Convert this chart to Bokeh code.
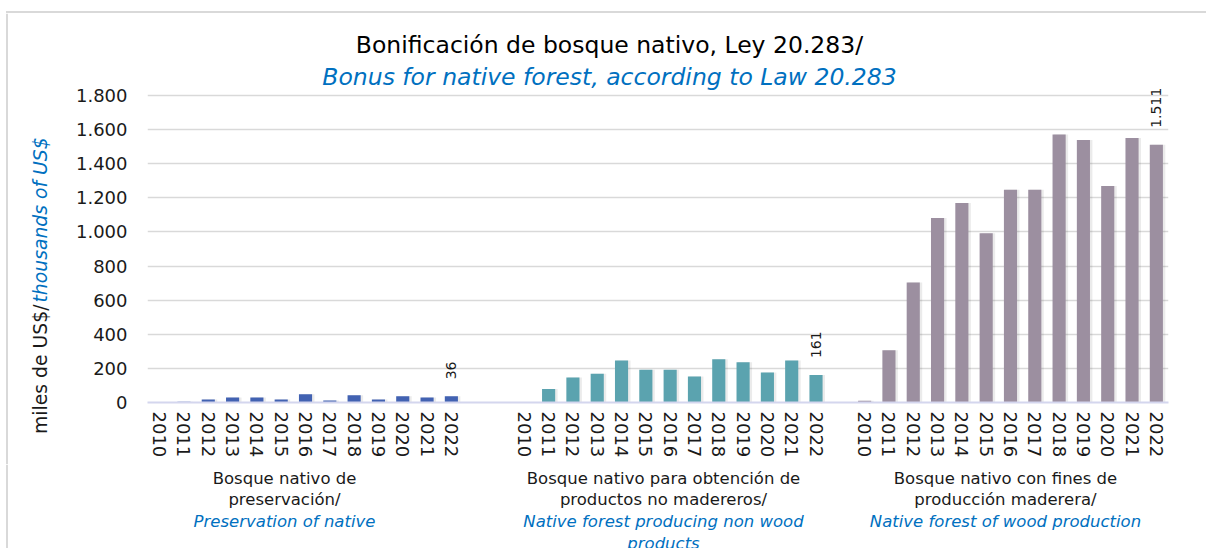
import math
from bokeh.plotting import figure
from bokeh.layouts import column, row
from bokeh.models import Range1d, FixedTicker, ColumnDataSource
from bokeh.embed import file_html
from bokeh.resources import INLINE
from bokeh.core.properties import value

# ---------------- data ----------------
YEARS = ["2010", "2011", "2012", "2013", "2014", "2015", "2016",
         "2017", "2018", "2019", "2020", "2021", "2022"]
PRESERVATION = [0, 4, 18, 30, 30, 17, 48, 11, 42, 17, 36, 30, 36]
NON_WOOD = [0, 79, 147, 168, 246, 192, 192, 152, 253, 236, 176, 246, 161]
WOOD = [10, 306, 704, 1082, 1169, 992, 1247, 1247, 1571, 1539, 1269, 1551, 1511]
SERIES = [PRESERVATION, NON_WOOD, WOOD]

# category slots: group 1, two blank categories, group 2, one blank, group 3
GROUP_START = [0, 15, 29]
N_SLOTS = 42

Y_TICKS = [0, 200, 400, 600, 800, 1000, 1200, 1400, 1600, 1800]
Y_TICK_LABELS = ["0", "200", "400", "600", "800", "1.000", "1.200", "1.400", "1.600", "1.800"]

TITLE = "Bonificación de bosque nativo, Ley 20.283/"
SUBTITLE = "Bonus for native forest, according to Law 20.283"
Y_LABEL_ES = "miles de US$/"
Y_LABEL_EN = "thousands of US$"
GROUP_ES = [["Bosque nativo de", "preservación/"],
            ["Bosque nativo para obtención de", "productos no madereros/"],
            ["Bosque nativo con fines de", "producción maderera/"]]
GROUP_EN = [["Preservation of native"],
            ["Native forest producing non wood", "products"],
            ["Native forest of wood production"]]
COLORS = ["#4262B2", "#5BA3AF", "#9C8FA0"]
BLUE_TEXT = "#0070C0"
TEXT_COL = "#1a1a1a"
BORDER_COL = "#D9D9D9"
FONT = "DejaVu Sans"

# ---------------- layout (page pixels; Bokeh's page has no body margin) ----------------
PX0, PY0 = 0, 0
TOTAL_W, TOTAL_H = 1206, 548
TOP_H = 13                 # strip holding the chart-area top border line
YLAB_W = 68                # strip holding the y-axis title
ROW_H = 451
GROUP_H = TOTAL_H - TOP_H - ROW_H
BORDER_X, BORDER_Y = 6.5, 11.5

FRAME_L, FRAME_R = 147, 1168
FRAME_T = PY0 + TOP_H
FRAME_B = 402
PPU = 307 / 1800.0
SLOT = (FRAME_R - FRAME_L) / N_SLOTS
Y_TOP = (FRAME_B - FRAME_T) / PPU


def dx(xpage):
    return (xpage - FRAME_L) / SLOT - 0.5


def dy(ypage):
    return (FRAME_B - ypage) / PPU


def no_align(f):
    if "frame_align" in f.properties():
        f.frame_align = False


def blank_fig(w, h, x0, y0):
    f = figure(width=w, height=h, output_backend="svg", toolbar_location=None,
               x_range=Range1d(x0, x0 + w), y_range=Range1d(y0 + h, y0),
               x_axis_type=None, y_axis_type=None,
               min_border_left=0, min_border_right=0, min_border_top=0, min_border_bottom=0)
    f.outline_line_color = None
    f.xgrid.visible = False
    f.ygrid.visible = False
    f.background_fill_color = "white"
    f.border_fill_color = "white"
    no_align(f)
    return f


# ---------- top strip (border line) ----------
top = blank_fig(TOTAL_W, TOP_H, PX0, PY0)
top.segment(x0=[BORDER_X - 1], y0=[BORDER_Y], x1=[PX0 + TOTAL_W], y1=[BORDER_Y],
            line_color=BORDER_COL, line_width=2)
top.segment(x0=[BORDER_X], y0=[BORDER_Y], x1=[BORDER_X], y1=[TOP_H],
            line_color=BORDER_COL, line_width=2)

# ---------- y-axis title strip ----------
ylab = blank_fig(YLAB_W, ROW_H, PX0, FRAME_T)
ylab.segment(x0=[BORDER_X], y0=[FRAME_T], x1=[BORDER_X], y1=[FRAME_T + ROW_H],
             line_color=BORDER_COL, line_width=2)
ylab.text(x=[40], y=[304], text=[Y_LABEL_ES], angle=math.pi / 2,
          text_align="right", text_baseline="middle",
          text_font=value(FONT), text_font_size="18.8px", text_color=TEXT_COL)
ylab.text(x=[40], y=[302], text=[Y_LABEL_EN], angle=math.pi / 2,
          text_align="left", text_baseline="middle",
          text_font=value(FONT), text_font_size="18.8px", text_font_style="italic",
          text_color=BLUE_TEXT)

# ---------- main chart ----------
CW = TOTAL_W - YLAB_W
p = figure(width=CW, height=ROW_H, output_backend="svg", toolbar_location=None,
           x_range=Range1d(-0.5, N_SLOTS - 0.5), y_range=Range1d(0, Y_TOP),
           min_border_left=FRAME_L - (PX0 + YLAB_W),
           min_border_right=(PX0 + TOTAL_W) - FRAME_R,
           min_border_top=0,
           min_border_bottom=(FRAME_T + ROW_H) - FRAME_B)
no_align(p)
p.outline_line_color = None
p.background_fill_color = "white"
p.border_fill_color = "white"
p.xgrid.grid_line_color = None
p.ygrid.grid_line_color = "#D9D9D9"
p.ygrid.grid_line_width = 1.5

tick_pos = []
tick_over = {}
for g, vals in enumerate(SERIES):
    xs = [GROUP_START[g] + i for i in range(len(vals))]
    for x, yr in zip(xs, YEARS):
        tick_pos.append(x)
        tick_over[x] = yr
    src = ColumnDataSource(dict(x=xs, xs=[x + 0.08 for x in xs], top=vals))
    # soft shadow
    p.vbar(x="xs", top="top", width=0.58, source=src, fill_color="#000000",
           fill_alpha=0.08, line_color=None)
    p.vbar(x="x", top="top", width=0.54, source=src, fill_color=COLORS[g], line_color=None)
    last = vals[-1]
    lab = f"{last:,}".replace(",", ".")
    p.text(x=[xs[-1]], y=[last], text=[lab], angle=math.pi / 2,
           text_align="left", text_baseline="middle", y_offset=-17,
           text_font=value(FONT), text_font_size="14px", text_color=TEXT_COL)

# titles inside the (tall) frame
p.text(x=[dx(609)], y=[dy(44)], text=[TITLE], text_align="center", text_baseline="middle",
       text_font=value(FONT), text_font_size="23.5px", text_color="black")
p.text(x=[dx(609)], y=[dy(76)], text=[SUBTITLE], text_align="center", text_baseline="middle",
       text_font=value(FONT), text_font_size="23.5px", text_font_style="italic",
       text_color=BLUE_TEXT)

p.xaxis.ticker = FixedTicker(ticks=tick_pos)
p.xaxis.major_label_overrides = tick_over
p.xaxis.major_label_orientation = "vertical"
p.xaxis.major_tick_in = 0
p.xaxis.major_tick_out = 0
p.xaxis.minor_tick_line_color = None
p.xaxis.axis_line_color = "#D4D6EE"
p.xaxis.axis_line_width = 2
p.xaxis.major_label_standoff = 9
p.xaxis.major_label_text_font = FONT
p.xaxis.major_label_text_font_size = "18px"
p.xaxis.major_label_text_color = TEXT_COL

p.yaxis.ticker = FixedTicker(ticks=Y_TICKS)
p.yaxis.major_label_overrides = dict(zip(Y_TICKS, Y_TICK_LABELS))
p.yaxis.axis_line_color = None
p.yaxis.major_tick_line_color = None
p.yaxis.major_tick_in = 0
p.yaxis.major_tick_out = 0
p.yaxis.minor_tick_line_color = None
p.yaxis.major_label_standoff = 20
p.yaxis.major_label_text_font = FONT
p.yaxis.major_label_text_font_size = "18px"
p.yaxis.major_label_text_color = TEXT_COL

# ---------- group labels strip ----------
gfig = blank_fig(TOTAL_W, GROUP_H, PX0, FRAME_T + ROW_H)
gfig.segment(x0=[BORDER_X], y0=[FRAME_T + ROW_H], x1=[BORDER_X], y1=[PY0 + TOTAL_H],
             line_color=BORDER_COL, line_width=2)
GROUP_CX = [284, 663, 1005]
LINE_Y = [478, 499, 521, 543]
for g in range(3):
    lines = [(t, TEXT_COL, "normal") for t in GROUP_ES[g]] + \
            [(t, BLUE_TEXT, "italic") for t in GROUP_EN[g]]
    for k, (t, col, sty) in enumerate(lines):
        gfig.text(x=[GROUP_CX[g]], y=[LINE_Y[k]], text=[t],
                  text_align="center", text_baseline="middle",
                  text_font=value(FONT), text_font_size="16.5px", text_font_style=sty,
                  text_color=col)

layout = column(top, row(ylab, p), gfig)
open("out.html", "w").write(file_html(layout, INLINE))
